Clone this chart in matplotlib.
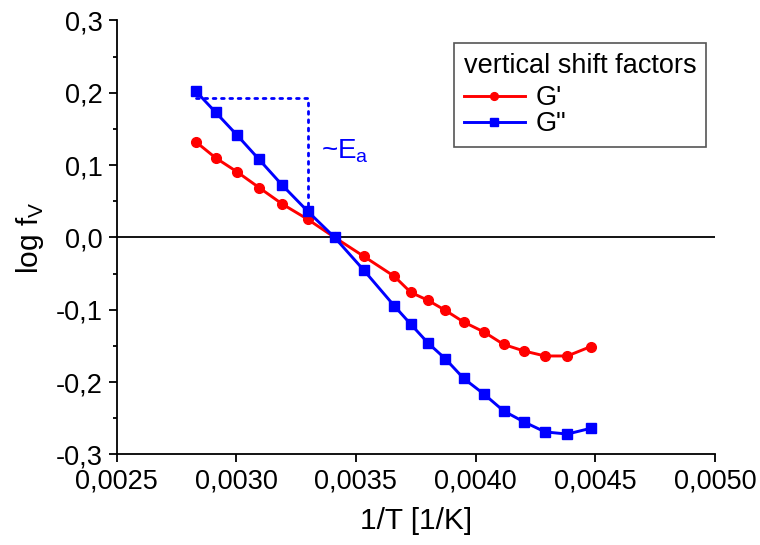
import matplotlib.pyplot as plt
from matplotlib.ticker import MultipleLocator, FuncFormatter

plt.rcParams['font.family'] = ['Liberation Sans', 'DejaVu Sans']

# 1/T for 80, 70, ... 20, 10, 0, -5, ... -50 °C
inv_T = [0.002832, 0.002914, 0.003002, 0.003095, 0.003193, 0.003299, 0.003411,
         0.003532, 0.003661, 0.003729, 0.003801, 0.003874, 0.003950, 0.004036,
         0.004117, 0.004201, 0.004290, 0.004383, 0.004481]

log_fv_G1 = [0.132, 0.110, 0.091, 0.069, 0.046, 0.025, 0.000,
             -0.026, -0.054, -0.076, -0.087, -0.101, -0.117, -0.131,
             -0.148, -0.157, -0.164, -0.164, -0.151]

log_fv_G2 = [0.202, 0.173, 0.142, 0.108, 0.072, 0.036, 0.000,
             -0.045, -0.095, -0.120, -0.146, -0.168, -0.195, -0.217,
             -0.240, -0.255, -0.269, -0.272, -0.264]

ea_level = 0.193

fig = plt.figure(figsize=(7.6, 5.45), dpi=100)
ax = fig.add_axes([0.1533, 0.1664, 0.7875, 0.796])

ax.axhline(0, color='black', lw=1.3, zorder=1)

ax.plot(inv_T, log_fv_G1, '-o', color='red', lw=2.1, ms=7, label="G'", zorder=3)
ax.plot(inv_T, log_fv_G2, '-s', color='blue', lw=2.1, ms=6.5, label='G"', zorder=3)

# activation energy triangle
ax.plot([inv_T[0], inv_T[5], inv_T[5]], [ea_level, ea_level, log_fv_G2[5]],
        color='blue', lw=2, dashes=(1, 2), dash_capstyle='round', zorder=2)
ax.text(0.003355, 0.12, r'~E$_\mathregular{a}$', color='blue', fontsize=20,
        ha='left', va='center')

ax.set_xlim(0.0025, 0.0050)
ax.set_ylim(-0.3, 0.3)
ax.xaxis.set_major_locator(MultipleLocator(0.0005))
ax.yaxis.set_major_locator(MultipleLocator(0.1))
ax.yaxis.set_minor_locator(MultipleLocator(0.05))
ax.xaxis.set_major_formatter(FuncFormatter(lambda v, p: f'{v:.4f}'.replace('.', ',')))
ax.yaxis.set_major_formatter(FuncFormatter(lambda v, p: f'{v:.1f}'.replace('.', ',').replace('-0,0', '0,0')))

for s in ['top', 'right']:
    ax.spines[s].set_visible(False)
for s in ['left', 'bottom']:
    ax.spines[s].set_linewidth(1.3)
ax.tick_params(axis='both', which='major', direction='out', length=6, width=1.3,
               labelsize=19.5, pad=4)
ax.tick_params(axis='y', which='minor', direction='out', length=3, width=1.3)

ax.set_xlabel('1/T [1/K]', fontsize=21.5, labelpad=9)
ax.set_ylabel(r'log f$_\mathregular{V}$', fontsize=21.5, labelpad=7)

leg = ax.legend(title='vertical shift factors', loc='upper right',
                bbox_to_anchor=(0.985, 0.948), borderaxespad=0,
                fontsize=19.5, title_fontsize=19.5, alignment='left',
                fancybox=False, edgecolor='#555555', framealpha=1,
                handlelength=2.25, borderpad=0.35, labelspacing=0.0,
                handletextpad=0.4, markerscale=0.8)
leg._legend_box.sep = 5  # a bit more room under the title
leg.get_frame().set_linewidth(1.2)

fig.savefig('out.png', dpi=100)
